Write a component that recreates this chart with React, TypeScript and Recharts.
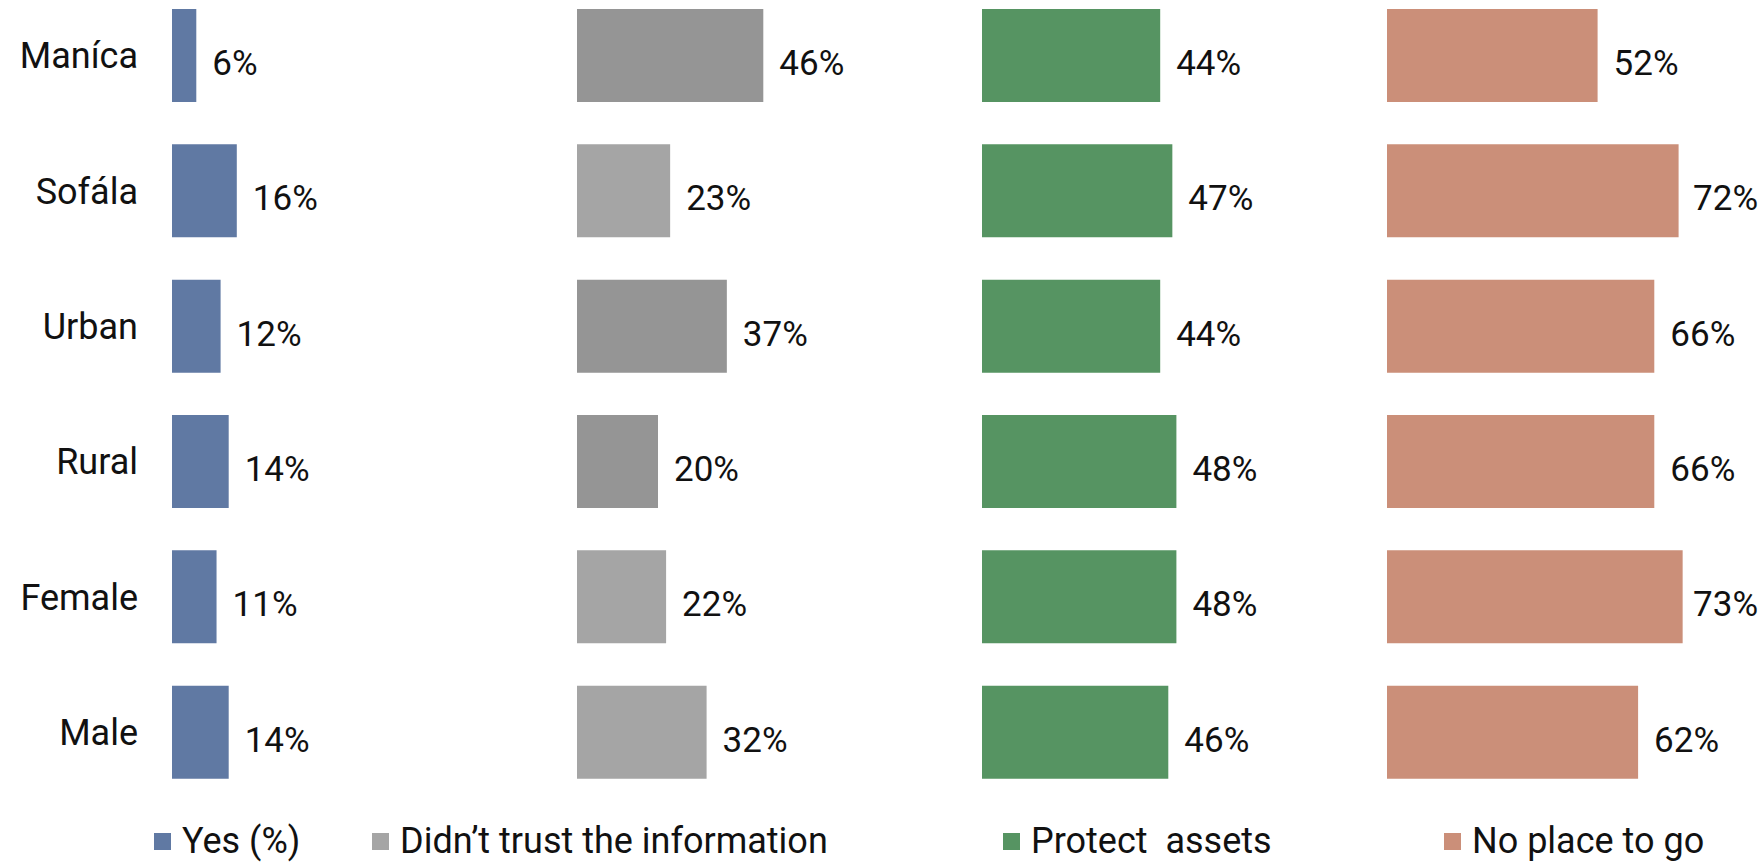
import { BarChart, Bar, XAxis, YAxis, Cell, LabelList } from "recharts";

// categories + one value list per question (percent)
const regions = ["Maníca", "Sofála", "Urban", "Rural", "Female", "Male"];
const yesPct = [6, 16, 12, 14, 11, 14];
const distrustPct = [46, 23, 37, 20, 22, 32];
const protectPct = [44, 47, 44, 48, 48, 46];
const noPlacePct = [52, 72, 66, 66, 73, 62];

const series = [
  { key: "yes", name: "Yes (%)", color: "#6079A3" },
  { key: "distrust", name: "Didn’t trust the information", color: "#A5A5A5" },
  { key: "protect", name: "Protect  assets", color: "#569462" },
  { key: "noplace", name: "No place to go", color: "#CB8F79" },
];

// the grey column alternates two shades in the original
const greyShades = ["#959595", "#A5A5A5", "#959595", "#959595", "#A5A5A5", "#A5A5A5"];

const rows = regions.map((region, i) => ({
  region,
  yes: yesPct[i],
  distrust: distrustPct[i],
  protect: protectPct[i],
  noplace: noPlacePct[i],
}));

const FONT = "Roboto, 'Noto Sans', sans-serif";
const AXIS_W = 172;
const PANEL_W = 405;
const PLOT_H = 812;
const BAR_H = 93;
const VALUE_FS = 35;
const LABEL_GAP = 16;
const PAGE_W = 1762;

const legendLeft = [154, 372, 1003, 1444];

const valueLabel = (panelLeft: number) => (props: any) => {
  const { x, y, width, height, value } = props;
  const txt = `${value}%`;
  const estW = (txt.length - 1) * 0.562 * VALUE_FS + 0.73 * VALUE_FS;
  const maxX = PAGE_W - 4 - panelLeft - estW;
  const tx = Math.min(x + width + LABEL_GAP, maxX);
  return (
    <text
      x={tx}
      y={y + height / 2 + 8}
      dominantBaseline="central"
      fontSize={VALUE_FS}
      fontFamily={FONT}
      fill="#111"
    >
      {txt}
    </text>
  );
};

function Panel({ index }: { index: number }) {
  const s = series[index];
  const withAxis = index === 0;
  const width = PANEL_W + (withAxis ? AXIS_W : 0);
  const left = withAxis ? 0 : AXIS_W + index * PANEL_W;
  return (
    <div style={{ position: "absolute", left, top: -12 }}>
      <BarChart
        width={width}
        height={PLOT_H}
        data={rows}
        layout="vertical"
        margin={{ top: 0, right: 0, bottom: 0, left: 0 }}
        style={{ overflow: "visible" }}
      >
        <XAxis type="number" domain={[0, 100]} hide />
        <YAxis
          type="category"
          dataKey="region"
          width={AXIS_W}
          hide={!withAxis}
          interval={0}
          axisLine={false}
          tickLine={false}
          tickMargin={28}
          tick={{ fontSize: 36, fill: "#111", fontFamily: FONT }}
        />
        <Bar dataKey={s.key} name={s.name} barSize={BAR_H} fill={s.color} isAnimationActive={false}>
          {s.key === "distrust" && rows.map((_, i) => <Cell key={i} fill={greyShades[i]} />)}
          <LabelList dataKey={s.key} content={valueLabel(left)} />
        </Bar>
      </BarChart>
    </div>
  );
}

export default function App() {
  return (
    <div
      style={{
        position: "absolute",
        left: 0,
        top: 0,
        width: PAGE_W,
        height: 862,
        overflow: "hidden",
        background: "#fff",
        fontFamily: FONT,
      }}
    >
      {series.map((_, i) => (
        <Panel key={i} index={i} />
      ))}
      {series.map((s, i) => (
        <div
          key={s.key}
          style={{
            position: "absolute",
            left: legendLeft[i],
            top: 816,
            height: 50,
            display: "flex",
            alignItems: "center",
            whiteSpace: "pre",
            fontSize: 36,
            color: "#111",
          }}
        >
          <span style={{ width: 17, height: 17, background: s.color, marginRight: 11, display: "inline-block" }} />
          <span>{s.name}</span>
        </div>
      ))}
    </div>
  );
}
